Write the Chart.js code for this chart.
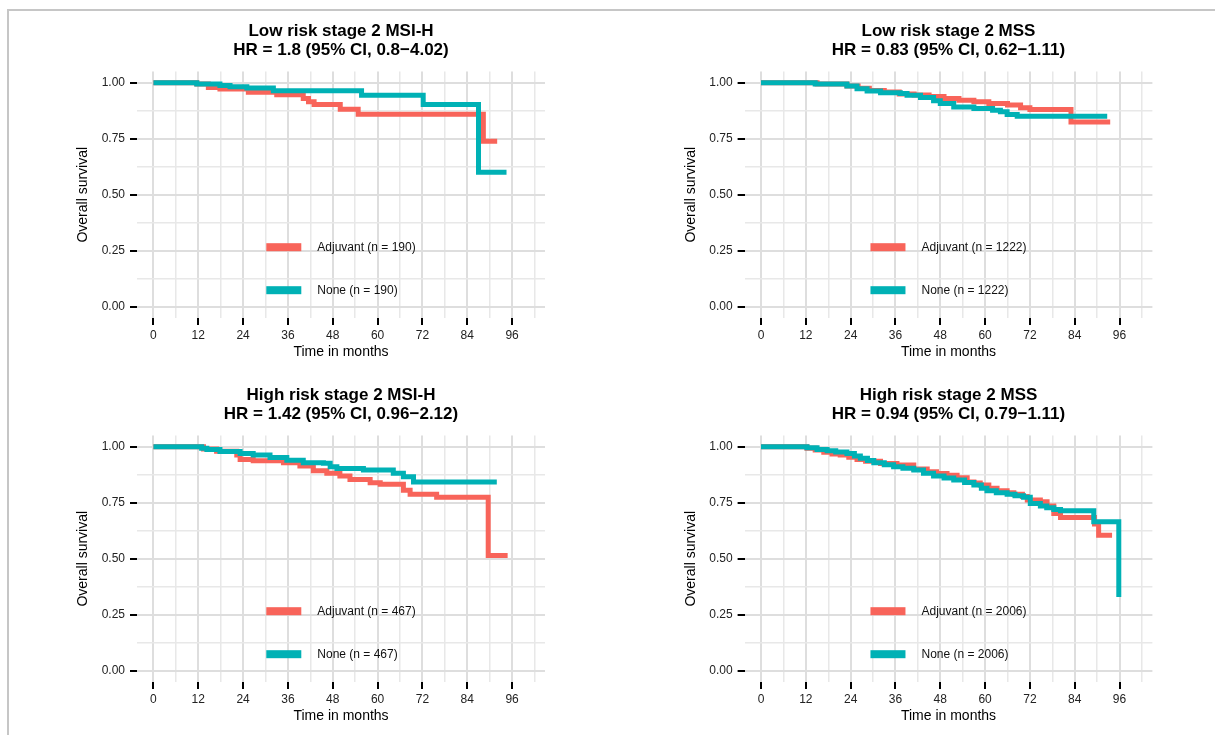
<!DOCTYPE html>
<html>
<head>
<meta charset="utf-8">
<title>Overall survival by risk group and MSI status</title>
<script src="https://cdn.jsdelivr.net/npm/chart.js"></script>
<style>
  html, body { margin: 0; padding: 0; background: #fff; }
  body { width: 1215px; height: 735px; position: relative; overflow: hidden; }
  .frame { position: absolute; left: 7px; top: 9px; right: -4px; bottom: -4px; border-top: 2px solid #c6c6c6; border-left: 2px solid #c6c6c6; }
  canvas { position: absolute; }
</style>
</head>
<body>
<div class="frame"></div>
<canvas id="lowMsiChart" width="607" height="365" style="left:0;top:0"></canvas>
<canvas id="lowMssChart" width="608" height="365" style="left:607px;top:0"></canvas>
<canvas id="highMsiChart" width="607" height="365" style="left:0;top:364px"></canvas>
<canvas id="highMssChart" width="608" height="365" style="left:607px;top:364px"></canvas>
<script>
const xTicks = [0, 12, 24, 36, 48, 60, 72, 84, 96];
const yTicks = [0, 0.25, 0.5, 0.75, 1];
const yTickLabels = ['0.00', '0.25', '0.50', '0.75', '1.00'];
const seriesNames = ['Adjuvant', 'None'];

// Low risk stage 2 MSI-H
const lowMsiAdjTime = [0, 11.6, 14.7, 17.8, 25.4, 33, 40.1, 41.5, 43, 50, 54.8, 88.3, 92];
const lowMsiAdjSurv = [1, 0.994, 0.979, 0.972, 0.957, 0.946, 0.93, 0.915, 0.903, 0.882, 0.859, 0.739, 0.739];
const lowMsiNoneTime = [0, 11.6, 17.8, 20.5, 25, 32.1, 55.7, 72.2, 87, 94.5];
const lowMsiNoneSurv = [1, 0.994, 0.988, 0.982, 0.976, 0.964, 0.944, 0.903, 0.6, 0.6];

// Low risk stage 2 MSS
const lowMssAdjTime = [0, 15, 23, 26, 29, 33, 37, 41, 45, 49, 53, 57, 61, 66, 69.5, 72, 83, 93.5];
const lowMssAdjSurv = [1, 0.994, 0.985, 0.975, 0.965, 0.958, 0.95, 0.945, 0.938, 0.93, 0.922, 0.915, 0.907, 0.9, 0.888, 0.88, 0.825, 0.825];
const lowMssNoneTime = [0, 14.5, 23, 25.7, 28.4, 32, 37.3, 39.1, 42.7, 46.2, 48, 51.6, 57, 62, 64.1, 65.9, 68.6, 92.7];
const lowMssNoneSurv = [1, 0.994, 0.985, 0.973, 0.963, 0.955, 0.952, 0.944, 0.934, 0.919, 0.907, 0.892, 0.885, 0.877, 0.87, 0.858, 0.85, 0.85];

// High risk stage 2 MSI-H
const highMsiAdjTime = [0, 13.4, 16.9, 22.3, 23.2, 26.7, 34.8, 39.2, 42.8, 46.4, 49.9, 52.6, 58, 60.7, 66.9, 68.7, 75.8, 89.6, 94.8];
const highMsiAdjSurv = [1, 0.99, 0.98, 0.963, 0.943, 0.937, 0.928, 0.914, 0.893, 0.881, 0.869, 0.854, 0.839, 0.832, 0.806, 0.788, 0.774, 0.515, 0.515];
const highMsiNoneTime = [0, 12.9, 14.3, 17.8, 23.2, 26.7, 31.2, 35.7, 40.1, 45.5, 47.3, 49.1, 56.2, 64.2, 66.9, 69.6, 91.9];
const highMsiNoneSurv = [1, 0.993, 0.988, 0.979, 0.97, 0.963, 0.952, 0.94, 0.928, 0.926, 0.911, 0.903, 0.896, 0.881, 0.866, 0.842, 0.842];

// High risk stage 2 MSS
const highMssAdjTime = [0, 12.3, 14.5, 16.8, 19, 21.2, 23.5, 25.7, 28, 32, 36.4, 40.9, 44.5, 47, 49.8, 52.5, 55.2, 57, 58.7, 61, 63.2, 65.9, 67.7, 70, 71.3, 74.8, 76.6, 78.4, 80.2, 89.3, 90.4, 94];
const highMssAdjSurv = [1, 0.993, 0.985, 0.975, 0.968, 0.963, 0.953, 0.943, 0.935, 0.925, 0.918, 0.9, 0.888, 0.88, 0.873, 0.862, 0.843, 0.838, 0.829, 0.815, 0.803, 0.795, 0.788, 0.778, 0.762, 0.754, 0.735, 0.702, 0.684, 0.655, 0.605, 0.605];
const highMssNoneTime = [0, 12.3, 15, 17.7, 20, 23, 25, 26.6, 28.5, 30.2, 33, 35.5, 38, 40.9, 43.5, 46.2, 49, 51.6, 54.5, 57, 59, 60.5, 63, 65.9, 68, 70.3, 72.1, 74.8, 76.5, 78.4, 80.2, 89.1, 95.8];
const highMssNoneSurv = [1, 0.995, 0.988, 0.982, 0.976, 0.97, 0.958, 0.948, 0.938, 0.928, 0.919, 0.911, 0.904, 0.896, 0.882, 0.869, 0.86, 0.851, 0.84, 0.829, 0.815, 0.803, 0.795, 0.788, 0.781, 0.774, 0.747, 0.735, 0.728, 0.72, 0.714, 0.665, 0.329];

const FONT = '"Liberation Sans", Arial, sans-serif';
const RED = '#f8645a';
const TEAL = '#00b1b5';

// minor grid lines sit halfway between the labelled ticks
const xGrid = xTicks.flatMap(v => [v, v + 6]);
const yGrid = yTicks.flatMap(v => v < 1 ? [v, v + 0.125] : [v]);

const toPoints = (times, surv) => times.map((t, i) => ({ x: t, y: surv[i] }));

const panelTitle = {
    id: 'panelTitle',
    afterDraw(chart, args, opts) {
        const { ctx, chartArea } = chart;
        const cx = (chartArea.left + chartArea.right) / 2;
        ctx.save();
        ctx.font = 'bold 17px ' + FONT;
        ctx.fillStyle = '#000';
        ctx.textAlign = 'center';
        ctx.textBaseline = 'middle';
        opts.lines.forEach((line, i) => ctx.fillText(line, cx, 31 + i * 19));
        ctx.restore();
    }
};

const insideLegend = {
    id: 'insideLegend',
    afterDatasetsDraw(chart) {
        const { ctx, chartArea } = chart;
        const sets = chart.data.datasets;
        ctx.save();
        ctx.font = '12px ' + FONT;
        const textW = Math.max(...sets.map(d => ctx.measureText(d.label).width));
        const keyW = 35;
        const gap = 16;
        const left = (chartArea.left + chartArea.right) / 2 - (keyW + gap + textW) / 2;
        const midY = chartArea.top + chartArea.height * 0.8;
        ctx.textBaseline = 'middle';
        sets.forEach((d, i) => {
            const y = midY + (i - 0.5) * 43;
            ctx.fillStyle = d.borderColor;
            ctx.fillRect(left, y - 4, keyW, 8);
            ctx.fillStyle = '#111';
            ctx.fillText(d.label, left + keyW + gap, y);
        });
        ctx.restore();
    }
};

const gridColor = (majors) => (c) => (c.tick && majors.includes(c.tick.value)) ? '#dedede' : '#e8e8e8';
const gridWidth = (majors) => (c) => (c.tick && majors.includes(c.tick.value)) ? 2 : 1.5;
const tickColor = (majors) => (c) => (c.tick && majors.includes(c.tick.value)) ? '#000' : 'rgba(0,0,0,0)';

const makeChart = (id, titleLines, n, adj, none, padLeft, padRight) => {
    const ctx = document.getElementById(id).getContext('2d');
    return new Chart(ctx, {
        type: 'line',
        data: {
            datasets: [{
                label: `${seriesNames[0]} (n = ${n})`,
                data: toPoints(adj[0], adj[1]),
                borderColor: RED,
                order: 1
            }, {
                label: `${seriesNames[1]} (n = ${n})`,
                data: toPoints(none[0], none[1]),
                borderColor: TEAL,
                order: 0
            }]
        },
        options: {
            responsive: false,
            animation: false,
            events: [],
            layout: { padding: { top: 71.5, left: padLeft, right: padRight, bottom: 0 } },
            elements: {
                line: { borderWidth: 5, stepped: true, tension: 0, fill: false, borderCapStyle: 'butt', borderJoinStyle: 'miter' },
                point: { radius: 0 }
            },
            scales: {
                x: {
                    type: 'linear',
                    min: -4.4,
                    max: 104.8,
                    afterBuildTicks: (scale) => { scale.ticks = xGrid.map(v => ({ value: v })); },
                    afterFit: (scale) => { scale.height = 47; },
                    border: { display: false },
                    grid: {
                        color: gridColor(xTicks),
                        lineWidth: gridWidth(xTicks),
                        tickLength: 7,
                        tickWidth: 2,
                        tickColor: tickColor(xTicks)
                    },
                    ticks: {
                        autoSkip: false,
                        maxRotation: 0,
                        padding: 3,
                        color: '#222',
                        font: { family: FONT, size: 12 },
                        callback: (v) => xTicks.includes(v) ? String(v) : ''
                    },
                    title: { display: true, text: 'Time in months', color: '#000', font: { family: FONT, size: 14 }, padding: { top: 4, bottom: 4 } }
                },
                y: {
                    type: 'linear',
                    min: -0.05,
                    max: 1.05,
                    afterBuildTicks: (scale) => { scale.ticks = yGrid.map(v => ({ value: v })); },
                    afterFit: (scale) => { scale.width = 66; },
                    border: { display: false },
                    grid: {
                        color: gridColor(yTicks),
                        lineWidth: gridWidth(yTicks),
                        tickLength: 7,
                        tickWidth: 2,
                        tickColor: tickColor(yTicks)
                    },
                    ticks: {
                        autoSkip: false,
                        padding: 5,
                        color: '#222',
                        font: { family: FONT, size: 12 },
                        callback: (v) => {
                            const i = yTicks.indexOf(v);
                            return i >= 0 ? yTickLabels[i] : '';
                        }
                    },
                    title: { display: true, text: 'Overall survival', color: '#000', font: { family: FONT, size: 14 }, padding: { top: 4, bottom: 4 } }
                }
            },
            plugins: {
                legend: { display: false },
                tooltip: { enabled: false },
                panelTitle: { lines: titleLines }
            }
        },
        plugins: [panelTitle, insideLegend]
    });
};

makeChart('lowMsiChart', ['Low risk stage 2 MSI-H', 'HR = 1.8 (95% CI, 0.8\u22124.02)'], 190,
    [lowMsiAdjTime, lowMsiAdjSurv], [lowMsiNoneTime, lowMsiNoneSurv], 71, 62);
makeChart('lowMssChart', ['Low risk stage 2 MSS', 'HR = 0.83 (95% CI, 0.62\u22121.11)'], 1222,
    [lowMssAdjTime, lowMssAdjSurv], [lowMssNoneTime, lowMssNoneSurv], 71.6, 62.6);
makeChart('highMsiChart', ['High risk stage 2 MSI-H', 'HR = 1.42 (95% CI, 0.96\u22122.12)'], 467,
    [highMsiAdjTime, highMsiAdjSurv], [highMsiNoneTime, highMsiNoneSurv], 71, 62);
makeChart('highMssChart', ['High risk stage 2 MSS', 'HR = 0.94 (95% CI, 0.79\u22121.11)'], 2006,
    [highMssAdjTime, highMssAdjSurv], [highMssNoneTime, highMssNoneSurv], 71.6, 62.6);
</script>
</body>
</html>
